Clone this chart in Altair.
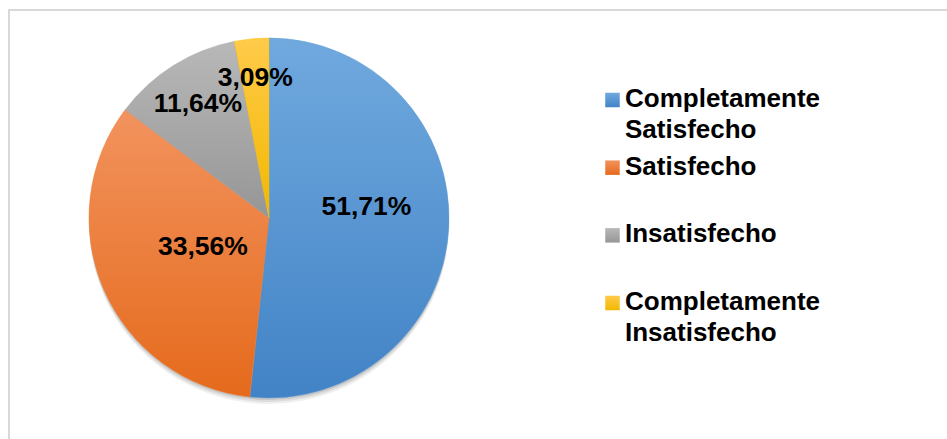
import math
import altair as alt
import pandas as pd

# ---- data ----
categories = ["Completamente Satisfecho", "Satisfecho", "Insatisfecho", "Completamente Insatisfecho"]
values = [51.71, 33.56, 11.64, 3.09]
value_labels = ["51,71%", "33,56%", "11,64%", "3,09%"]

# ---- styles ----
top_colors = ["#70A9DE", "#F2935E", "#B8B8B8", "#FFCB4A"]
bottom_colors = ["#4283C6", "#E56A1C", "#969696", "#F2B700"]
mid_colors = ["#5B9BD5", "#ED7D31", "#A5A5A5", "#FFC000"]

df = pd.DataFrame({
    "cat": categories,
    "value": values,
    "lab": value_labels,
    "order": list(range(len(categories))),
})

W, H = 939, 430
CX, CY, R = 261, 209, 180
FONT = "Liberation Sans"

theta_scale = alt.Scale(domain=[0, 100], range=[0, 2 * math.pi])
legend_scale = alt.Scale(type="point", range=[91, 294], padding=0)

base = alt.Chart(df).transform_window(
    cum="sum(value)", sort=[alt.SortField("order")], frame=[None, 0]
).transform_calculate(
    start="datum.cum - datum.value",
    mid="datum.cum - datum.value / 2",
)


def grad(i):
    return alt.LinearGradient(
        gradient="linear",
        stops=[alt.GradientStop(color=top_colors[i], offset=0),
               alt.GradientStop(color=bottom_colors[i], offset=1)],
        x1=0, x2=0, y1=0, y2=1,
    )


layers = []

# soft shadow under the pie
shadow_base = alt.Chart(df).transform_aggregate(total="sum(value)").transform_calculate(zero="0")
for off, op in [(2, 0.10), (4, 0.08), (6, 0.06)]:
    layers.append(
        shadow_base.mark_arc(outerRadius=R, fill="#000000", opacity=op).encode(
            theta=alt.Theta("zero:Q", scale=theta_scale, stack=None),
            theta2="total:Q",
            x=alt.value(CX),
            y=alt.value(CY + off),
        )
    )

# pie slices
for i in range(len(categories)):
    layers.append(
        base.transform_filter(f"datum.order == {i}").mark_arc(
            outerRadius=R, fill=grad(i), stroke=mid_colors[i], strokeWidth=0.5
        ).encode(
            theta=alt.Theta("start:Q", scale=theta_scale, stack=None),
            theta2="cum:Q",
            x=alt.value(CX),
            y=alt.value(CY),
        )
    )

# slice labels (best-fit style placement)
labels_layer = base.transform_calculate(
    la="datum.value >= 50 ? datum.mid - 2.6 : datum.mid",
    lr="datum.value >= 50 ? 98 : (datum.value >= 30 ? 72 : (datum.value >= 10 ? 134 : 141))",
).mark_text(
    font=FONT, fontSize=26.5, fontWeight="bold", color="#000000",
    align="center", baseline="middle",
).encode(
    theta=alt.Theta("la:Q", scale=theta_scale, stack=None),
    radius=alt.Radius("lr:Q", scale=None),
    text="lab:N",
    x=alt.value(CX),
    y=alt.value(CY),
)
layers.append(labels_layer)

# legend symbols
for i in range(len(categories)):
    layers.append(
        alt.Chart(df).transform_filter(f"datum.order == {i}").mark_square(
            size=210, fill=grad(i), opacity=1
        ).encode(
            y=alt.Y("order:O", scale=legend_scale, axis=None),
            x=alt.value(604.5),
        )
    )

# legend labels
layers.append(
    alt.Chart(df).transform_calculate(lbl="split(datum.cat, ' ')").mark_text(
        font=FONT, fontSize=26, fontWeight="bold", color="#000000",
        align="left", baseline="alphabetic", dy=7, lineHeight=31,
    ).encode(
        y=alt.Y("order:O", scale=legend_scale, axis=None),
        x=alt.value(617),
        text="lbl:N",
    )
)

# chart frame (top and left edges visible)
frame_src = alt.Chart(pd.DataFrame({"k": [0]}))
layers.append(frame_src.mark_rule(color="#D9D9D9", strokeWidth=2).encode(
    x=alt.value(0), x2=alt.value(W), y=alt.value(1)))
layers.append(frame_src.mark_rule(color="#D9D9D9", strokeWidth=2).encode(
    x=alt.value(1), y=alt.value(0), y2=alt.value(H)))

chart = alt.layer(*layers).properties(
    width=W, height=H,
    padding={"left": 8, "top": 9, "right": 0, "bottom": 0},
    autosize=alt.AutoSizeParams(type="none"),
    background="#FFFFFF",
).configure_view(stroke=None)

chart.save("out.html", embed_options={"renderer": "svg", "actions": False})
